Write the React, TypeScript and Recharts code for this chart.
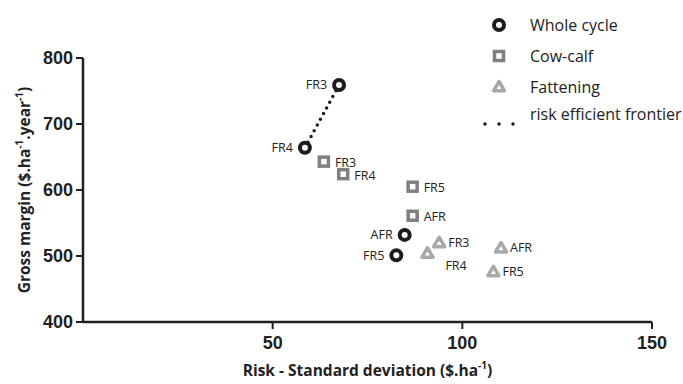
import React from 'react'
import { ScatterChart, Scatter, XAxis, YAxis } from 'recharts'

// Whole cycle
const wholeNames = ['FR3', 'FR4', 'AFR', 'FR5']
const wholeRisk = [67.5, 58.5, 84.8, 82.6]
const wholeMargin = [759, 664, 532, 501]

// Cow-calf
const cowNames = ['FR3', 'FR4', 'FR5', 'AFR']
const cowRisk = [63.5, 68.6, 86.9, 86.9]
const cowMargin = [643, 624, 605, 561]

// Fattening
const fatNames = ['FR3', 'FR4', 'AFR', 'FR5']
const fatRisk = [93.9, 90.8, 110.2, 108.2]
const fatMargin = [520, 504, 512, 476]

// risk efficient frontier joins these whole-cycle systems
const frontierNames = ['FR4', 'FR3']

const xTicks = [50, 100, 150]
const yTicks = [400, 500, 600, 700, 800]
const legendLabels = ['Whole cycle', 'Cow-calf', 'Fattening', 'risk efficient frontier']

const toPoints = (names: string[], xs: number[], ys: number[]) =>
  names.map((name, i) => ({ name, risk: xs[i], margin: ys[i] }))

const wholeData = toPoints(wholeNames, wholeRisk, wholeMargin)
const cowData = toPoints(cowNames, cowRisk, cowMargin)
const fatData = toPoints(fatNames, fatRisk, fatMargin)
const frontierData = wholeData.filter((d) => frontierNames.includes(d.name))

const BLACK = '#1c1c1c'
const DARK_GREY = '#808080'
const LIGHT_GREY = '#a8a8a8'
const AXIS = '#231f20'
const labelFont = "'Open Sans', sans-serif"

function CircleMark({ cx, cy }: { cx: number; cy: number }) {
  return <circle cx={cx} cy={cy} r={5} fill="#fff" stroke={BLACK} strokeWidth={4} />
}

function SquareMark({ cx, cy }: { cx: number; cy: number }) {
  return <rect x={cx - 4.5} y={cy - 4.5} width={9} height={9} fill="#fff" stroke={DARK_GREY} strokeWidth={3.5} />
}

function TriangleMark({ cx, cy }: { cx: number; cy: number }) {
  const s = 5.5
  return (
    <polygon
      points={`${cx},${cy - s} ${cx + s},${cy + s * 0.7} ${cx - s},${cy + s * 0.7}`}
      fill="#fff"
      stroke={LIGHT_GREY}
      strokeWidth={3.5}
      strokeLinejoin="round"
    />
  )
}

function pointLabel(text: string, x: number, y: number, anchor: 'start' | 'end') {
  return (
    <text x={x} y={y} dy="0.35em" textAnchor={anchor} fontSize={12.5} fontFamily={labelFont} fill="#222">
      {text}
    </text>
  )
}

const wholeShape = (p: any) => (
  <g>
    <CircleMark cx={p.cx} cy={p.cy} />
    {pointLabel(p.payload.name, p.cx - 12, p.cy, 'end')}
  </g>
)

const cowShape = (p: any) => (
  <g>
    <SquareMark cx={p.cx} cy={p.cy} />
    {pointLabel(p.payload.name, p.cx + 11, p.cy + 1, 'start')}
  </g>
)

const fatShape = (p: any) => {
  const below = p.payload.name === 'FR4'
  return (
    <g>
      <TriangleMark cx={p.cx} cy={p.cy} />
      {below
        ? pointLabel(p.payload.name, p.cx + 18, p.cy + 12, 'start')
        : pointLabel(p.payload.name, p.cx + 9, p.cy, 'start')}
    </g>
  )
}

function LegendBox() {
  const symbols = [
    <CircleMark cx={10} cy={10} />,
    <SquareMark cx={10} cy={10} />,
    <TriangleMark cx={10} cy={10} />,
  ]
  return (
    <div style={{ position: 'absolute', top: 9, left: 489, width: 194, fontFamily: labelFont, fontSize: 16, color: '#222' }}>
      {legendLabels.map((lbl, i) => (
        <div key={lbl} style={{ display: 'flex', alignItems: 'center', height: 31 }}>
          <svg width={41} height={i === 3 ? 31 : 20} style={{ flex: 'none', overflow: 'visible' }}>
            {i < 3 ? (
              symbols[i]
            ) : (
              <line x1={-4} y1={22} x2={26} y2={22} stroke={BLACK} strokeWidth={3.5} strokeDasharray="0 14" strokeLinecap="round" />
            )}
          </svg>
          <span style={{ marginTop: i === 3 ? -8 : 0, whiteSpace: 'nowrap' }}>{lbl}</span>
        </div>
      ))}
    </div>
  )
}

const yTitle = (props: any) => {
  const { x, y, height } = props.viewBox
  return (
    <text
      transform={`translate(${x + 25}, ${y + height / 2}) rotate(-90)`}
      textAnchor="middle"
      dy="0.35em"
      fontSize={15.5}
      fontWeight="bold"
      fontFamily={labelFont}
      fill="#222"
    >
      Gross margin ($.ha
      <tspan dy={-7} fontSize={10}>-1</tspan>
      <tspan dy={7}>.year</tspan>
      <tspan dy={-7} fontSize={10}>-1</tspan>
      <tspan dy={7}>)</tspan>
    </text>
  )
}

const xTitle = (props: any) => {
  const { x, y, width } = props.viewBox
  return (
    <text x={x + width / 2} y={y + 49} dy="0.35em" textAnchor="middle" fontSize={15.5} fontWeight="bold" fontFamily={labelFont} fill="#222">
      Risk - Standard deviation ($.ha
      <tspan dy={-7} fontSize={10}>-1</tspan>
      <tspan dy={7}>)</tspan>
    </text>
  )
}

const tickStyle = { fontSize: 18, fontWeight: 'bold', fill: '#231f20', fontFamily: "'Liberation Sans', Arial, sans-serif" }

export default function App() {
  return (
    <div style={{ position: 'absolute', left: 0, top: 0, width: 683, height: 384, background: '#fff' }}>
      <ScatterChart width={683} height={384} margin={{ top: 58, right: 31, left: 0, bottom: 0 }}>
        <XAxis
          type="number"
          dataKey="risk"
          domain={[0, 150]}
          ticks={xTicks}
          allowDataOverflow
          height={62}
          axisLine={{ stroke: AXIS, strokeWidth: 2.5 }}
          tickLine={{ stroke: AXIS, strokeWidth: 2 }}
          tickSize={7}
          tickMargin={7}
          tick={tickStyle}
          label={xTitle}
        />
        <YAxis
          type="number"
          dataKey="margin"
          domain={[400, 800]}
          ticks={yTicks}
          width={83}
          axisLine={{ stroke: AXIS, strokeWidth: 2.5 }}
          tickLine={{ stroke: AXIS, strokeWidth: 2 }}
          tickSize={7}
          tickMargin={3}
          tick={tickStyle}
          label={yTitle}
        />
        <Scatter
          name="risk efficient frontier"
          data={frontierData}
          line={{ stroke: BLACK, strokeWidth: 3.5, strokeDasharray: '0 6.5', strokeLinecap: 'round' }}
          shape={() => <g />}
          isAnimationActive={false}
        />
        <Scatter name="Whole cycle" data={wholeData} shape={wholeShape} isAnimationActive={false} />
        <Scatter name="Cow-calf" data={cowData} shape={cowShape} isAnimationActive={false} />
        <Scatter name="Fattening" data={fatData} shape={fatShape} isAnimationActive={false} />
      </ScatterChart>
      <LegendBox />
    </div>
  )
}
